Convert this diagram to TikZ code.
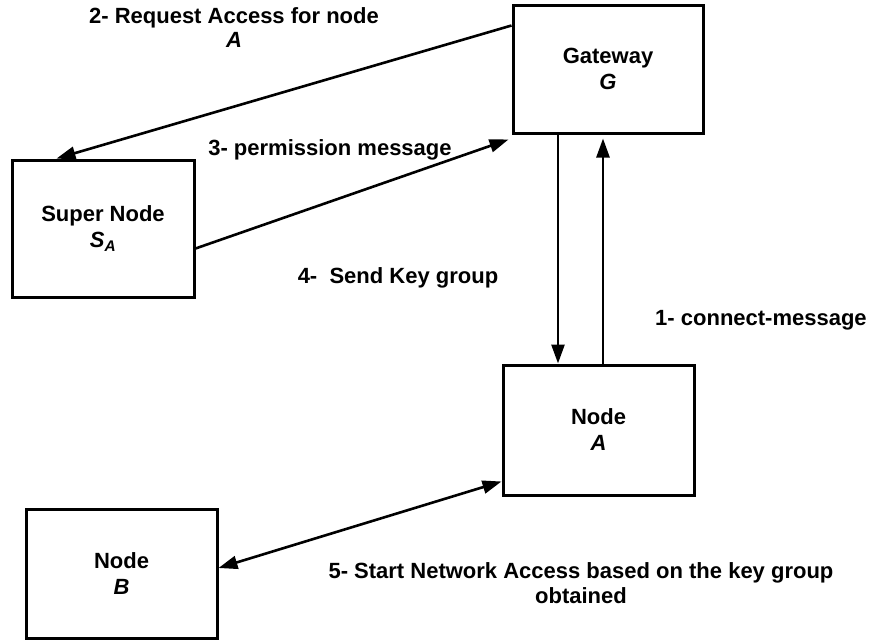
\documentclass[tikz,border=0pt]{standalone}
\usepackage{fontspec}
\setmainfont{Liberation Sans}
\usetikzlibrary{arrows.meta}

\tikzset{
  entity/.style={draw, line width=3pt, fill=white, align=center,
    inner sep=0pt, font=\fontsize{22}{26}\selectfont\bfseries},
  msg/.style={line width=2.6pt, -{Triangle[length=19pt,width=13pt]}},
  biMsg/.style={line width=2.6pt, {Triangle[length=19pt,width=13pt]}-{Triangle[length=19pt,width=13pt]}},
  caption/.style={inner sep=0pt, align=center,
    font=\fontsize{22}{24.5}\selectfont\bfseries}
}

\begin{document}
\begin{tikzpicture}[x=1pt, y=-1pt]
  \useasboundingbox (0,0) rectangle (873,643);

  % participants
  \node[entity, minimum width=190pt, minimum height=128pt] (gw) at (608,69)
    {Gateway\\\textit{G}};
  \node[entity, minimum width=182pt, minimum height=137pt] (sn) at (103,228.5)
    {Super Node\\\textit{S\textsubscript{A}}};
  \node[entity, minimum width=191pt, minimum height=130pt] (na) at (598.5,430)
    {Node\\\textit{A}};
  \node[entity, minimum width=191pt, minimum height=129pt] (nb) at (121.5,573.5)
    {Node\\\textit{B}};

  % message flow
  \draw[msg] ([yshift=-22pt]gw.north west) -- ([xshift=46pt]sn.north west);
  \draw[msg] ([yshift=-90pt]sn.north east) -- ([xshift=-3pt,yshift=-5pt]gw.south west);
  \draw[msg] ([xshift=-50pt]gw.south) -- ([xshift=-50pt]gw.south |- na.north);
  \draw[msg, shorten >=4pt] ([xshift=4.5pt]na.north) -- ([xshift=4.5pt]na.north |- gw.south);
  \draw[biMsg] ([yshift=5.5pt]nb.east) -- ([yshift=15pt]na.south west);

  % step labels
  \node[caption] (l2) at (234,27.5) {2- Request Access for node\\\textit{A}};
  \node[caption, anchor=base] (l3) at (330,155) {3- permission message};
  \node[caption, anchor=base] (l4) at (398,283) {4-\ \ Send Key group};
  \node[caption, anchor=base] (l1) at (761,325) {1- connect-message};
  \node[caption] (l5) at (581,583)
    {5- Start Network Access based on the key group\\obtained};
\end{tikzpicture}
\end{document}
